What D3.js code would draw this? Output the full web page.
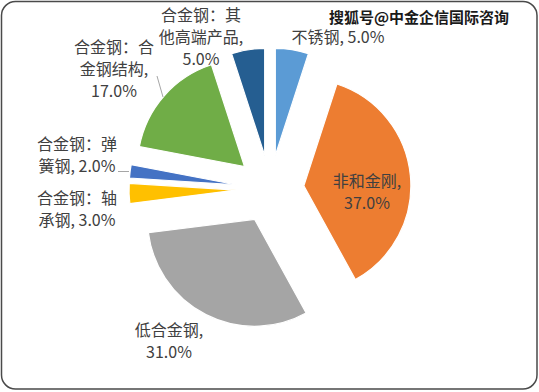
<!DOCTYPE html>
<html><head><meta charset="utf-8">
<script src="https://cdn.jsdelivr.net/npm/d3@7"></script>
<style>html,body{margin:0;padding:0;background:#fff;}svg{display:block;}</style>
</head><body>
<svg id="c" width="539" height="392"></svg>
<script>
// ---- data ----
const categories = ["不锈钢", "非和金刚", "低合金钢", "合金钢：轴承钢", "合金钢：弹簧钢", "合金钢：合金钢结构", "合金钢：其他高端产品"];
const values = [5.0, 37.0, 31.0, 3.0, 2.0, 17.0, 5.0];
const colors = ["#5B9BD5", "#ED7D31", "#A5A5A5", "#FFC000", "#4472C4", "#70AD47", "#255E91"];
const watermark = "搜狐号@中金企信国际咨询";

// ---- layout ----
const W = 539, H = 392;
const cx = 270, cy = 189, R = 107, explode = 34;
// label anchors (center of first line) and wrap breaks (char indices)
const labelLayout = [
  {x: 338, y: 37, breaks: []},
  {x: 367, y: 181, breaks: [5]},
  {x: 169, y: 330, breaks: [5]},
  {x: 77, y: 198, breaks: [5]},
  {x: 77, y: 144, breaks: [5]},
  {x: 114, y: 47, breaks: [5, 10]},
  {x: 201, y: 15, breaks: [5, 11]}
];
const lineH = 22;

const svg = d3.select("#c");
svg.append("rect").attr("x", 1.5).attr("y", 1.5).attr("width", W - 3.5).attr("height", H - 4.5)
  .attr("rx", 14).attr("ry", 14).attr("fill", "#fff").attr("stroke", "#4a4a4a").attr("stroke-width", 1.5);

const pie = d3.pie().sort(null).value(d => d)(values);
const arc = d3.arc().innerRadius(0).outerRadius(R);

const g = svg.append("g").attr("transform", `translate(${cx},${cy})`);
g.selectAll("path").data(pie).join("path")
  .attr("d", arc)
  .attr("fill", (d, i) => colors[i])
  .attr("stroke", "#fff").attr("stroke-width", 1.2)
  .attr("transform", d => {
    const m = (d.startAngle + d.endAngle) / 2;
    return `translate(${Math.sin(m) * explode},${-Math.cos(m) * explode})`;
  });

// leader lines
const leaders = [
  [[157, 76], [163, 97]],
  [[118, 171.5], [129, 171.5]]
];
svg.selectAll("line.leader").data(leaders).join("line").attr("class", "leader")
  .attr("x1", d => d[0][0]).attr("y1", d => d[0][1])
  .attr("x2", d => d[1][0]).attr("y2", d => d[1][1])
  .attr("stroke", "#a6a6a6").attr("stroke-width", 1);

// labels
const font = "'Noto Sans CJK SC', 'Noto Sans', sans-serif";
categories.forEach((name, i) => {
  const full = name + ", " + values[i].toFixed(1) + "%";
  const L = labelLayout[i];
  const cuts = [0, ...L.breaks, full.length];
  const lines = [];
  for (let k = 0; k < cuts.length - 1; k++) lines.push(full.slice(cuts[k], cuts[k + 1]).trim());
  const t = svg.append("text").attr("text-anchor", "middle")
    .attr("font-family", font).attr("font-size", 16).attr("fill", "#404040");
  lines.forEach((s, k) => {
    t.append("tspan").attr("x", L.x).attr("y", L.y + k * lineH).attr("dy", "0.36em").text(s);
  });
});

// watermark
svg.append("text").attr("x", 419).attr("y", 17.5).attr("dy", "0.36em").attr("text-anchor", "middle")
  .attr("font-family", font).attr("font-size", 15).attr("font-weight", "bold")
  .attr("fill", "#1a1a1a").attr("stroke", "#fff").attr("stroke-width", 0.6).attr("paint-order", "stroke")
  .text(watermark);
</script>
</body></html>
